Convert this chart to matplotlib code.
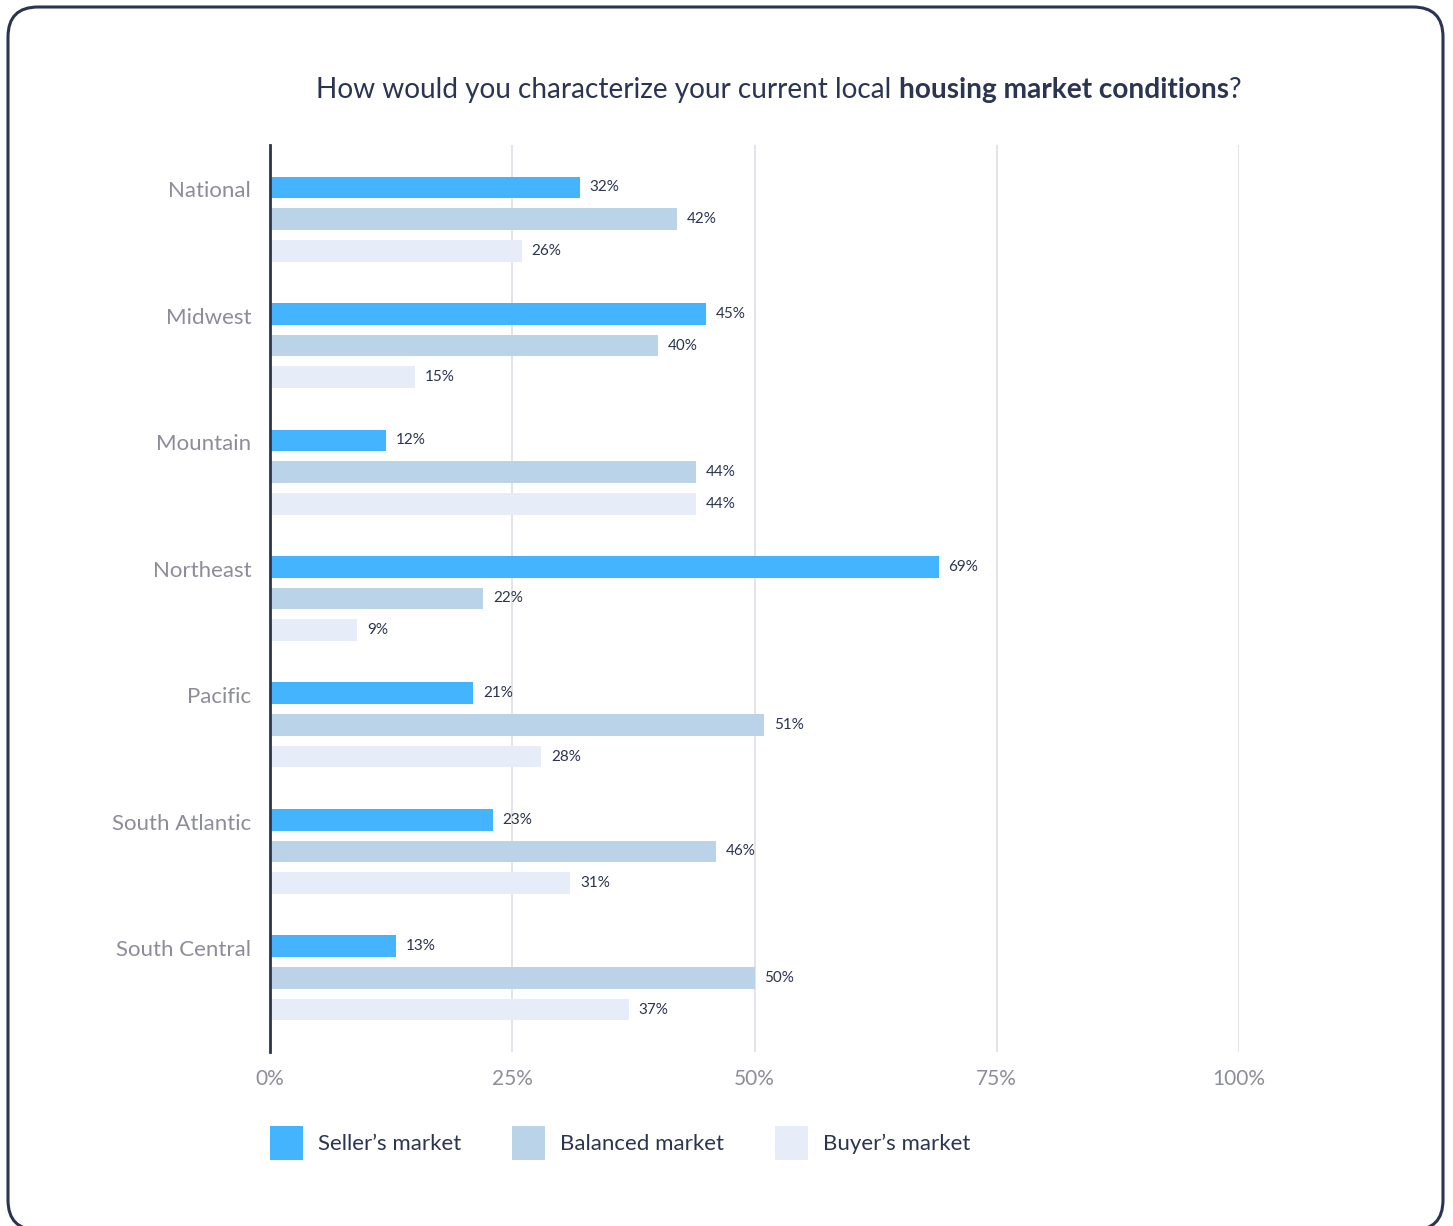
import matplotlib
matplotlib.use("Agg")
import matplotlib.pyplot as plt
import numpy as np
from matplotlib.patches import Patch, FancyBboxPatch

regions = ["National", "Midwest", "Mountain", "Northeast", "Pacific",
           "South Atlantic", "South Central"]
sellers = [32, 45, 12, 69, 21, 23, 13]
balanced = [42, 40, 44, 22, 51, 46, 50]
buyers = [26, 15, 44, 9, 28, 31, 37]
series_names = ["Seller\u2019s market", "Balanced market", "Buyer\u2019s market"]
x_ticks = [0, 25, 50, 75, 100]

colors = ["#45B4FF", "#BBD3E8", "#E6ECF8"]
dark = "#2B3450"
grey = "#8C8D99"
grid_col = "#DEDFE5"

plt.rcParams["font.family"] = ["Lato", "DejaVu Sans"]

fig = plt.figure(figsize=(14.53, 12.26), dpi=100)
ax = fig.add_axes([270 / 1453, 1 - 1052 / 1226, (1239 - 270) / 1453, (1052 - 145) / 1226])

y = np.arange(len(regions))
pitch = 0.25
height = 0.172
for k, vals in enumerate([sellers, balanced, buyers]):
    pos = y + (k - 1) * pitch
    ax.barh(pos, vals, height=height, color=colors[k], zorder=2)
    for p, v in zip(pos, vals):
        ax.annotate(f"{v}%", (v, p), xytext=(7, 0), textcoords="offset points",
                    va="center", ha="left", fontsize=11, color=dark)

ax.set_xlim(0, 100)
ax.set_ylim(len(regions) - 1 + 0.586, -0.586)
# region names sit level with the first bar of each group
ax.set_yticks(y - pitch + 0.015)
ax.set_yticklabels(regions, fontsize=16, color=grey)
ax.set_xticks(x_ticks)
ax.set_xticklabels([f"{t}%" for t in x_ticks], fontsize=15, color=grey)
ax.tick_params(axis="both", length=0)
ax.tick_params(axis="y", pad=13.5)
ax.tick_params(axis="x", pad=12)
ax.xaxis.grid(True, color=grid_col, linewidth=1.2, zorder=0)
ax.set_axisbelow(True)
for s in ["top", "right", "bottom"]:
    ax.spines[s].set_visible(False)
ax.spines["left"].set_color(dark)
ax.spines["left"].set_linewidth(2)
ax.spines["left"].set_zorder(3)

# title with a bold middle part
pieces = [("How would you characterize your current local ", "normal"),
          ("housing market conditions", "bold"),
          ("?", "normal")]
texts = [fig.text(0, 1 - 90 / 1226, s, fontsize=20.2, fontweight=w, color=dark, va="center")
         for s, w in pieces]
fig.canvas.draw()
r = fig.canvas.get_renderer()
widths = [t.get_window_extent(r).width for t in texts]
x0 = 779 - sum(widths) / 2
for t, w in zip(texts, widths):
    t.set_x(x0 / 1453)
    x0 += w

handles = [Patch(facecolor=c, edgecolor="none") for c in colors]
fig.legend(handles, series_names, loc="center left", bbox_to_anchor=(270 / 1453, 1 - 1143 / 1226),
           ncol=3, frameon=False, fontsize=16, labelcolor=dark, borderpad=0, borderaxespad=0,
           handlelength=1.48, handleheight=1.91, handletextpad=0.68, columnspacing=2.3)

frame = FancyBboxPatch((0.08, -0.04), 14.35, 12.23,
                       boxstyle="round,pad=0,rounding_size=0.3",
                       transform=fig.dpi_scale_trans, facecolor="none",
                       edgecolor=dark, linewidth=2.2)
fig.patches.append(frame)

fig.savefig("out.png", dpi=100)
